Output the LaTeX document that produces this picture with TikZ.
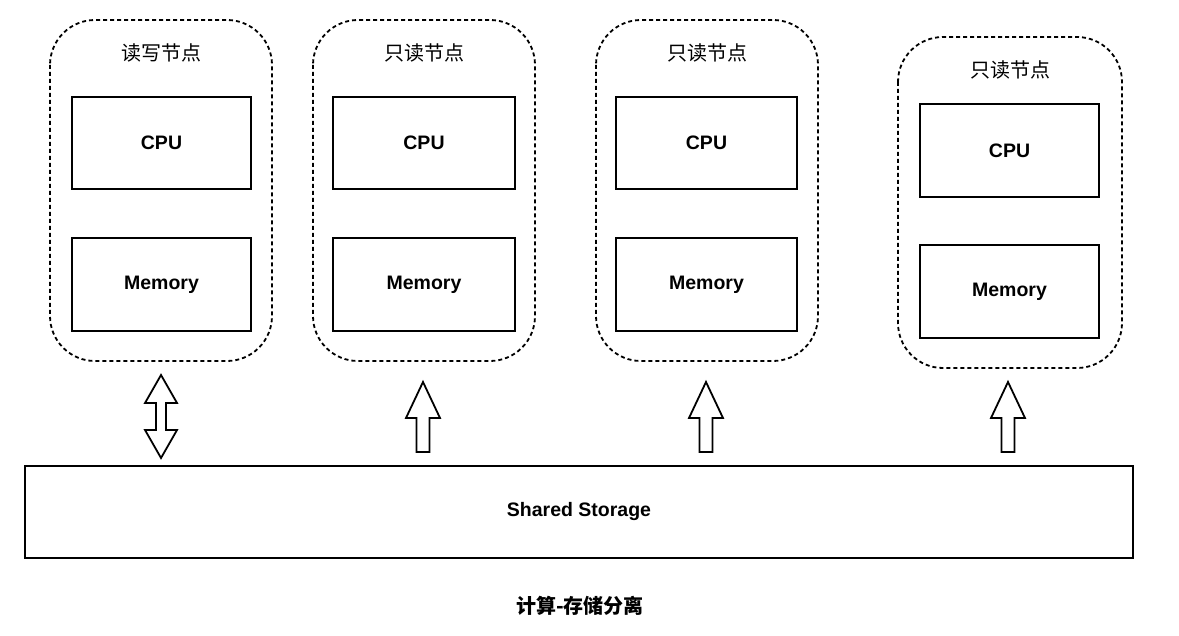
\documentclass[tikz,border=0pt]{standalone}
\usepackage{fontspec}
\setmainfont{Liberation Sans}
\newfontfamily\cjk{Noto Sans CJK SC}
\usetikzlibrary{calc}
\tikzset{
  nodebox/.style={draw, line width=1.8pt, dash pattern=on 4pt off 3pt, rounded corners=45pt},
  part/.style={draw, line width=1.8pt, inner sep=0pt, font=\fontsize{19.5}{23}\selectfont\bfseries},
  cjklabel/.style={font=\fontsize{20}{24}\selectfont\cjk},
  blockarrow/.style={draw, line width=1.8pt, line join=miter, fill=white}
}
\begin{document}
\begin{tikzpicture}[x=1pt,y=-1pt]
\useasboundingbox (0,0) rectangle (1179,636);
% nodes
\foreach \n/\xl/\xr/\yt/\yb/\lbl/\cl/\cr/\cyt/\cyb/\myt/\myb in {
  1/50/272/20/361/读写节点/72/251/97/189/238/331,
  2/313/535/20/361/只读节点/333/515/97/189/238/331,
  3/596/818/20/361/只读节点/616/797/97/189/238/331,
  4/898/1122/37/368/只读节点/920/1099/104/197/245/338}{
  \draw[nodebox] (\xl,\yt) rectangle (\xr,\yb);
  \coordinate (n\n) at ({(\xl+\xr)/2},\yb);
  \node[cjklabel] (l\n) at ({(\xl+\xr)/2},\yt+33) {\lbl};
  \node[part, minimum width={\cr-\cl}, minimum height={\cyb-\cyt}] (cpu\n) at ({(\cl+\cr)/2},{(\cyt+\cyb)/2}) {CPU};
  \node[part, minimum width={\cr-\cl}, minimum height={\myb-\myt}] (mem\n) at ({(\cl+\cr)/2},{(\myt+\myb)/2}) {Memory};
}
% shared storage
\node[part, minimum width=1108, minimum height=92] (st) at (579,512) {Shared Storage};
% caption
\node[font=\fontsize{20}{24}\selectfont\cjk\bfseries] (cap) at (580,606) {计算-存储分离};
% double arrow
\draw[blockarrow] (161,375) -- (177,403) -- (166,403) -- (166,430) -- (177,430) -- (161,458)
  -- (145,430) -- (156,430) -- (156,403) -- (145,403) -- cycle;
% single arrows
\foreach \c in {423,706,1008}{
  \draw[blockarrow] (\c-6.5,452) -- (\c-6.5,418) -- (\c-17,418) -- (\c,382) -- (\c+17,418) -- (\c+6.5,418) -- (\c+6.5,452) -- cycle;
}
\end{tikzpicture}
\end{document}
